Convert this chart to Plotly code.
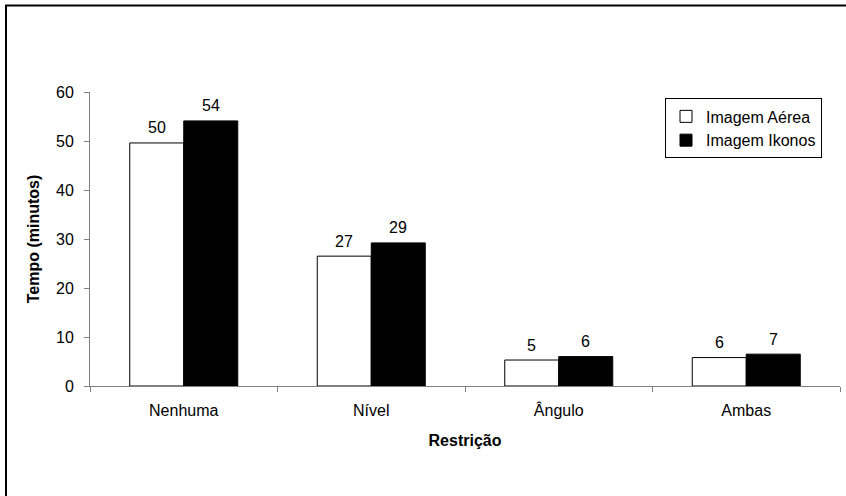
import plotly.graph_objects as go

categories = ["Nenhuma", "Nível", "Ângulo", "Ambas"]
aerea = [49.6, 26.5, 5.3, 5.8]
ikonos = [54.1, 29.2, 6.0, 6.5]
aerea_labels = ["50", "27", "5", "6"]
ikonos_labels = ["54", "29", "6", "7"]
y_ticks = [0, 10, 20, 30, 40, 50, 60]

FONT = "Liberation Sans, Arial, sans-serif"
FS = 16

fig = go.Figure()
fig.add_trace(go.Bar(
    name="Imagem Aérea", x=categories, y=aerea,
    marker=dict(color="white", line=dict(color="black", width=1)),
))
fig.add_trace(go.Bar(
    name="Imagem Ikonos", x=categories, y=ikonos,
    marker=dict(color="black", line=dict(color="black", width=1)),
))

annotations = []
for cat, v, lab in zip(categories, aerea, aerea_labels):
    annotations.append(dict(x=cat, y=v, xref="x", yref="y", text=lab, showarrow=False,
                            xshift=-27, yshift=15, yanchor="middle",
                            font=dict(size=FS, family=FONT, color="black")))
for cat, v, lab in zip(categories, ikonos, ikonos_labels):
    annotations.append(dict(x=cat, y=v, xref="x", yref="y", text=lab, showarrow=False,
                            xshift=27, yshift=15, yanchor="middle",
                            font=dict(size=FS, family=FONT, color="black")))

fig.update_layout(
    width=846, height=496,
    margin=dict(l=90, r=6, t=92, b=110, autoexpand=False),
    paper_bgcolor="white", plot_bgcolor="white",
    font=dict(family=FONT, size=FS, color="black"),
    barmode="group", bargap=0.424, bargroupgap=0,
    showlegend=True,
    legend=dict(
        x=0.976, xanchor="right", y=0.978, yanchor="top",
        bordercolor="black", borderwidth=1, bgcolor="white",
        font=dict(size=FS, family=FONT), tracegroupgap=0,
    ),
    xaxis=dict(
        title=dict(text="<b>Restrição</b>", font=dict(size=FS), standoff=16),
        showline=True, linecolor="#808080", linewidth=1,
        ticks="outside", tickson="boundaries", ticklen=5, tickcolor="#808080",
        showgrid=False, tickfont=dict(size=FS), ticklabelstandoff=10,
    ),
    yaxis=dict(
        title=dict(text="<b>Tempo (minutos)</b>", font=dict(size=FS), standoff=12),
        range=[0, 60], tickvals=y_ticks,
        showline=True, linecolor="#808080", linewidth=1,
        ticks="outside", ticklen=5, tickcolor="#808080",
        showgrid=False, zeroline=False, tickfont=dict(size=FS), ticklabelstandoff=7,
    ),
    annotations=annotations,
    shapes=[dict(
        type="rect", xref="paper", yref="paper",
        x0=-84 / 750, x1=1.1, y0=-0.5, y1=(386 - 5.5) / 294,
        line=dict(color="black", width=2), fillcolor="rgba(0,0,0,0)", layer="below",
    )],
)

fig.write_html("out.html", config={"displayModeBar": False},
               post_script="document.body.style.margin='0';document.body.style.overflow='hidden';")
